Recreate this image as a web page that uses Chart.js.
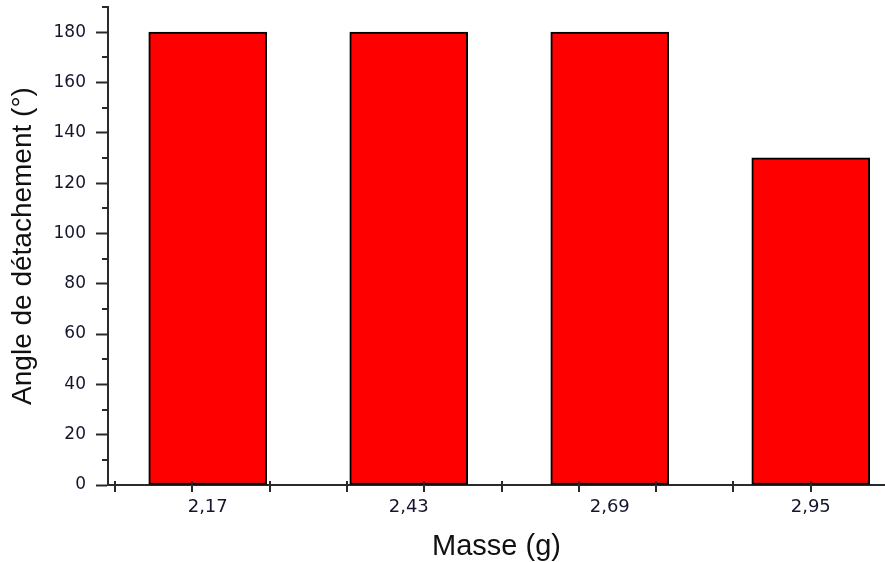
<!DOCTYPE html>
<html>
<head>
<meta charset="utf-8">
<script src="https://cdn.jsdelivr.net/npm/chart.js@4"></script>
<style>
  html, body { margin: 0; padding: 0; background: #fff; }
  canvas { display: block; }
</style>
</head>
<body>
<canvas id="chart" width="885" height="562"></canvas>
<script>
// Masses tested (g) and the detachment angle reached for each (degrees)
const masses = [2.17, 2.43, 2.69, 2.95];
const massLabels = ["2,17", "2,43", "2,69", "2,95"];
const angles = [180, 180, 180, 130];

// Axis ticks
const yTicks = [0, 20, 40, 60, 80, 100, 120, 140, 160, 180];
const yMinorTicks = [10, 30, 50, 70, 90, 110, 130, 150, 170, 190];
const xTickMarks = [2.05, 2.15, 2.25, 2.35, 2.45, 2.55, 2.65, 2.75, 2.85, 2.95];

const axisColor = "#2a2a2a";
const textColor = "#15152e";

// Short ticks that Chart.js can't draw on its own: y minor ticks, and x ticks crossing the axis line
const extraTicks = {
    id: "extraTicks",
    afterDraw(chart) {
        const ctx = chart.ctx;
        const x = chart.scales.x, y = chart.scales.y;
        ctx.save();
        ctx.strokeStyle = axisColor;
        ctx.lineWidth = 2;
        ctx.beginPath();
        yMinorTicks.forEach(v => {
            const py = Math.round(y.getPixelForValue(v));
            ctx.moveTo(x.left - 6, py);
            ctx.lineTo(x.left, py);
        });
        xTickMarks.forEach(v => {
            const px = Math.round(x.getPixelForValue(v));
            ctx.moveTo(px, y.bottom - 4);
            ctx.lineTo(px, y.bottom + 7);
        });
        ctx.stroke();
        ctx.restore();
    }
};

const config = {
    type: "bar",
    data: {
        datasets: [{
            data: masses.map((m, i) => ({ x: m, y: angles[i] })),
            backgroundColor: "#ff0000",
            borderColor: "#000",
            borderWidth: 2,
            borderSkipped: false,
            barThickness: 118
        }]
    },
    options: {
        responsive: false,
        animation: false,
        layout: { padding: { top: 7, right: 0, left: 0, bottom: 0 } },
        plugins: {
            legend: { display: false },
            tooltip: { enabled: false }
        },
        scales: {
            x: {
                type: "linear",
                offset: false,
                min: 2.041,
                max: 3.046,
                afterBuildTicks: scale => {
                    scale.ticks = masses.map(v => ({ value: v }));
                },
                afterFit: scale => {
                    scale.height = 77;
                    scale.paddingLeft = 0;
                    scale.paddingRight = 0;
                },
                grid: {
                    drawOnChartArea: false,
                    tickLength: 7,
                    tickColor: "transparent"
                },
                border: { color: axisColor, width: 2 },
                ticks: {
                    padding: 5,
                    color: textColor,
                    font: { family: "DejaVu Sans", size: 18 },
                    maxRotation: 0,
                    callback: (value, index) => massLabels[index]
                },
                title: {
                    display: true,
                    text: "Masse (g)",
                    color: "#111",
                    font: { family: "Liberation Sans", size: 29, lineHeight: 1 },
                    padding: { top: 0, bottom: 1 }
                }
            },
            y: {
                min: 0,
                max: 190,
                afterBuildTicks: scale => {
                    scale.ticks = yTicks.map(v => ({ value: v }));
                },
                afterFit: scale => {
                    scale.width = 108;
                    scale.paddingTop = 0;
                    scale.paddingBottom = 0;
                },
                grid: {
                    drawOnChartArea: false,
                    tickLength: 12,
                    tickColor: axisColor,
                    tickWidth: 2
                },
                border: { color: axisColor, width: 2 },
                ticks: {
                    padding: 10,
                    color: textColor,
                    font: { family: "DejaVu Sans", size: 17 }
                },
                title: {
                    display: true,
                    text: "Angle de détachement (°)",
                    color: "#111",
                    font: { family: "Liberation Sans", size: 28, lineHeight: 1 },
                    padding: { top: 9, bottom: 0 }
                }
            }
        }
    },
    plugins: [extraTicks]
};

new Chart(document.getElementById("chart").getContext("2d"), config);
</script>
</body>
</html>
